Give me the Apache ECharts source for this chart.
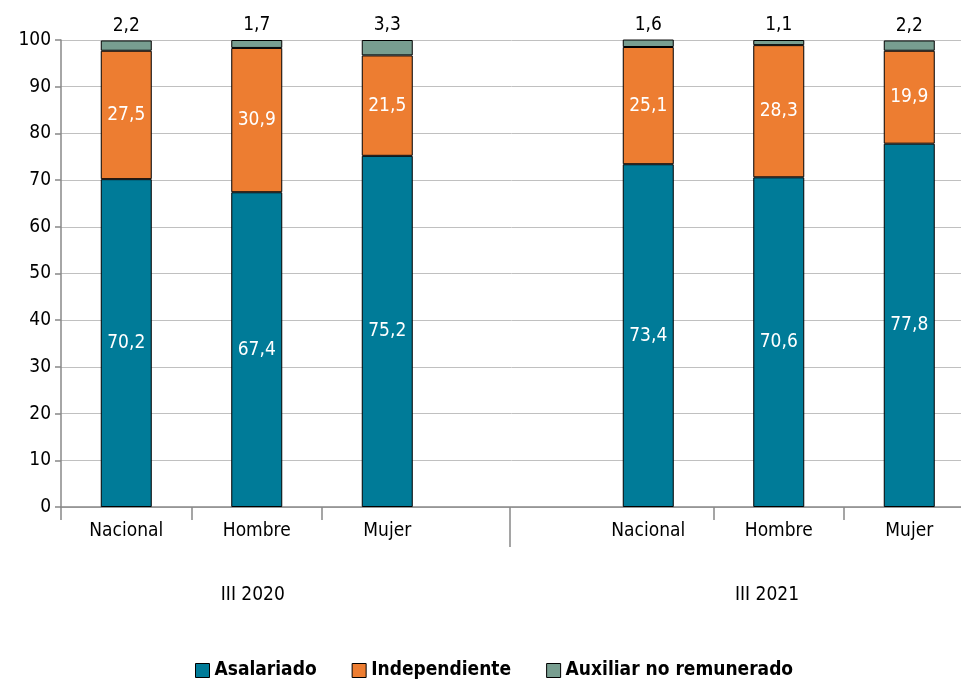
<!DOCTYPE html>
<html>
<head>
<meta charset="utf-8">
<script src="https://cdn.jsdelivr.net/npm/echarts@6/dist/echarts.min.js"></script>
<style>
  html, body { margin: 0; padding: 0; background: #fff; }
  #chart { width: 961px; height: 683px; }
</style>
</head>
<body>
<div id="chart"></div>
<script>
  // categorias (la 4a es el hueco entre los dos trimestres)
  const categorias = ['Nacional', 'Hombre', 'Mujer', '', 'Nacional', 'Hombre', 'Mujer'];
  const asalariado = [70.2, 67.4, 75.2, '-', 73.4, 70.6, 77.8];
  const independiente = [27.5, 30.9, 21.5, '-', 25.1, 28.3, 19.9];
  const auxiliar = [2.2, 1.7, 3.3, '-', 1.6, 1.1, 2.2];
  const periodos = ['III 2020', 'III 2021'];
  // posiciones en unidades de categoria
  const posPeriodos = [1.47, 5.41];
  const posDivisor = 3.44;
  const posMarcas = [0, 1, 2, 5, 6];

  const fuente = '"DejaVu Sans Condensed", "DejaVu Sans", sans-serif';
  const coma = p => (typeof p.value === 'number' ? p.value.toFixed(1).replace('.', ',') : '');

  const myChart = echarts.init(document.getElementById('chart'));

  const option = {
    animation: false,
    textStyle: { fontFamily: fuente },
    grid: { left: 61, right: -13.5, top: 40, bottom: 176, outerBoundsMode: 'none', containLabel: false },
    legend: {
      top: 656,
      left: 190,
      itemWidth: 14,
      itemHeight: 14,
      itemGap: 35,
      icon: 'rect',
      itemStyle: { borderColor: '#000', borderWidth: 1 },
      textStyle: { fontFamily: fuente, fontSize: 19, fontWeight: 'bold', color: '#000' },
      data: ['Asalariado', 'Independiente', 'Auxiliar no remunerado']
    },
    xAxis: [
      {
        type: 'category',
        data: categorias,
        axisLine: { lineStyle: { color: '#888', width: 1.5 } },
        axisTick: { show: false },
        axisLabel: { color: '#000', fontSize: 19, margin: 15, fontFamily: fuente }
      },
      {
        // marcas cortas entre categorias
        type: 'value',
        min: 0,
        max: 7,
        position: 'bottom',
        axisLine: { show: false },
        splitLine: { show: false },
        axisTick: {
          show: true,
          customValues: posMarcas,
          length: 13,
          lineStyle: { color: '#888', width: 1.5 }
        },
        axisLabel: { show: false }
      },
      {
        // divisor largo y etiquetas de periodo
        type: 'value',
        min: 0,
        max: 7,
        position: 'bottom',
        axisLine: { show: false },
        splitLine: { show: false },
        axisTick: {
          show: true,
          customValues: [posDivisor],
          length: 40,
          lineStyle: { color: '#888', width: 1.5 }
        },
        axisLabel: {
          customValues: posPeriodos,
          margin: 79,
          color: '#000',
          fontSize: 19,
          fontFamily: fuente,
          formatter: function (v) {
            return v < posDivisor ? periodos[0] : periodos[1];
          }
        }
      }
    ],
    yAxis: {
      type: 'value',
      min: 0,
      max: 100,
      interval: 10,
      axisLine: { show: true, lineStyle: { color: '#888', width: 1.5 } },
      axisTick: { show: true, length: 6, lineStyle: { color: '#888', width: 1.5 } },
      splitLine: { lineStyle: { color: '#c0c0c0', width: 1 } },
      axisLabel: { color: '#000', fontSize: 19, margin: 10, fontFamily: fuente }
    },
    series: [
      {
        name: 'Asalariado',
        type: 'bar',
        stack: 'total',
        barWidth: 51,
        data: asalariado,
        itemStyle: { color: '#007B98', borderColor: '#000', borderWidth: 1 },
        label: { show: true, position: 'inside', color: '#fff', fontSize: 19, fontFamily: fuente, formatter: coma }
      },
      {
        name: 'Independiente',
        type: 'bar',
        stack: 'total',
        barWidth: 51,
        data: independiente,
        itemStyle: { color: '#ED7D31', borderColor: '#000', borderWidth: 1 },
        label: { show: true, position: 'inside', color: '#fff', fontSize: 19, fontFamily: fuente, formatter: coma }
      },
      {
        name: 'Auxiliar no remunerado',
        type: 'bar',
        stack: 'total',
        barWidth: 51,
        data: auxiliar,
        itemStyle: { color: '#789E90', borderColor: '#000', borderWidth: 1 },
        label: { show: true, position: 'top', distance: 5, color: '#000', fontSize: 19, fontFamily: fuente, formatter: coma }
      }
    ]
  };

  myChart.setOption(option);
</script>
</body>
</html>
